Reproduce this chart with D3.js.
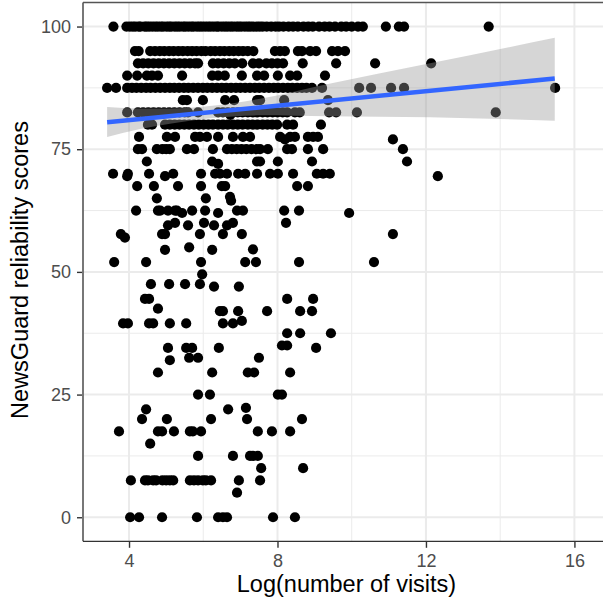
<!DOCTYPE html>
<html><head><meta charset="utf-8">
<script src="https://cdn.jsdelivr.net/npm/d3@7/dist/d3.min.js"></script>
<style>html,body{margin:0;padding:0;background:#fff}svg{display:block}text{font-family:"Liberation Sans",Arial,sans-serif}</style>
</head><body><svg id="c" width="603" height="603"></svg>
<script>
const scores=[100,95,92.5,90,87.5,85,82.5,82,80,77.5,77,75,72.5,72,70,69.5,67.5,65.3,65,64.5,62.5,62,60,59.5,57.7,57,55,54.6,54.5,52,49.5,47.5,47,44.5,42.5,42,40,39.5,37.5,35,34.5,32.5,32,29.5,25,22.3,22,20,17.5,15,12.5,10,7.5,5,0];
const visits=[
[3.58,3.93,4.02,4.1,4.17,4.26,4.31,4.42,4.48,4.55,4.63,4.71,4.78,4.86,4.92,5.01,5.08,5.14,5.23,5.3,5.37,5.46,5.52,5.6,5.68,5.74,5.83,5.9,5.97,6.05,6.13,6.2,6.28,6.36,6.41,6.5,6.58,6.65,6.73,6.8,6.89,6.96,7.03,7.12,7.2,7.27,7.35,7.44,7.52,7.6,7.71,7.83,7.95,8.04,8.16,8.3,8.42,8.55,8.7,8.83,8.95,9.12,9.27,9.4,9.55,9.72,9.85,10.0,10.17,10.3,10.92,11.27,11.41,13.69],
[4.16,4.26,4.57,4.7,4.83,4.95,5.08,5.2,5.33,5.45,5.58,5.7,5.82,5.95,6.06,6.2,6.32,6.45,6.57,6.7,6.82,6.95,7.07,7.2,7.35,7.93,8.07,8.2,8.55,8.66,8.88,9.04,9.47,9.63,9.82],
[4.24,4.38,4.52,4.66,4.8,4.94,5.08,5.22,5.36,5.5,5.64,5.78,5.86,6.26,6.4,6.55,6.7,6.85,7.05,7.34,7.5,7.7,7.85,8.0,8.15,8.68,9.58,10.63,12.14],
[3.95,4.22,4.48,4.62,4.78,5.43,6.24,6.4,6.58,7.04,7.45,7.64,8.01,8.34,8.53,9.28],
[3.41,3.65,3.95,4.08,4.2,4.33,4.46,4.58,4.71,4.84,4.97,5.1,5.22,5.35,5.48,5.6,5.73,5.86,5.99,6.11,6.24,6.37,6.5,6.62,6.75,6.88,7.0,7.13,7.26,7.39,7.51,7.64,7.77,7.9,8.02,8.15,8.28,8.4,8.53,8.66,8.78,8.93,9.2,10.2,10.52,11.06,11.41,15.48],
[5.45,5.56,5.99,6.59,6.83,7.45,7.53,8.18,9.36],
[3.95,4.24,4.38,4.52,4.66,4.8,4.94,5.08,5.22,5.36,5.5,5.59,5.86,6.4,6.53,6.66,6.8,6.93,7.06,7.2,7.33,7.46,7.6,7.73,7.87,8.0,8.14,8.26,8.47,8.6,9.39,9.58,10.14,13.88],
[6.73],
[4.51,4.62,4.97,5.1,5.23,5.36,5.49,5.62,5.75,5.88,6.01,6.14,6.26,6.4,6.53,6.66,6.8,6.93,7.06,7.2,7.33,7.46,7.6,7.73,7.86,7.99,8.26,8.42,9.17],
[4.27,5.02,5.24,5.78,5.91,6.1,6.4,6.8,7.07,7.26,8.07,8.34,8.47,8.82,8.96,9.09],
[8.2,11.11],
[4.24,4.35,4.75,4.9,5.0,5.1,5.56,5.75,6.26,6.64,6.77,6.9,7.03,7.16,7.3,7.43,7.53,7.74,8.26,8.39,8.82,9.23,11.38],
[4.48,6.24,7.45,7.53,8.01,8.93,11.49],
[6.4],
[3.57,3.97,4.54,5.19,5.94,6.32,6.45,6.64,6.94,7.13,7.45,7.8,8.01,8.42,9.06,9.23,9.41],
[3.95,4.97,12.32],
[4.22,4.67,5.32,5.94,6.5,6.59,8.53,8.82],
[6.72],
[4.75,6.07],
[6.75],
[4.19,4.78,4.84,5.05,5.24,5.29,5.7,6.05,6.91,7.07,8.18,8.58],
[5.43,6.4,9.93],
[5.24,6.02,6.8,8.23],
[5.05,5.59,6.29,6.64],
[3.78,4.89,4.97,5.91,6.53,7.04,11.11],
[3.89],
[5.62],
[7.34],
[4.97,6.24],
[3.6,4.46,5.94,7.13,7.42,8.58,10.6],
[5.97],
[4.59,5.08,5.51,5.91],
[6.29,6.96],
[4.43,4.54,8.26,8.96],
[4.78],
[6.45,6.53,6.94,7.72,8.61,8.93],
[7.04],
[3.84,3.97,4.54,4.65,5.1,5.54,6.53,6.8],
[8.26,8.61,9.44],
[8.12,8.26],
[5.05,5.54,5.7,6.42,9.04],
[5.62,5.86,7.5],
[5.1],
[4.78,6.24,7.2,7.37,8.34],
[5.86,6.18,8.01,8.12],
[7.15],
[4.46,6.67],
[4.35,5.02,6.21,7.18,8.66],
[3.73,4.78,4.89,5.21,5.64,5.72,5.94,7.47,7.85,8.34],
[4.57],
[5.86,6.8,7.26,7.34,7.47],
[7.56,8.69],
[4.05,4.43,4.51,4.65,4.73,4.9,5.0,5.1,5.19,5.64,5.75,5.86,5.99,6.07,6.21,6.96,7.53],
[6.91],
[4.03,4.27,4.89,5.83,6.4,6.53,6.64,7.88,8.47]
];
const fitX=[3.41,15.47];
const fitY=[80.5,89.4];
const bandX=[3.41,4.30,5.10,6.18,7.53,9.36,12.11,15.47];
const bandHigh=[83.6,83.3,83.3,83.8,85.3,88.3,92.5,97.7];
const bandLow=[77.5,79.1,80.2,81.3,81.9,81.7,81.5,80.8];
const xTicks=[4,8,12,16], xMinor=[6,10,14];
const yTicks=[0,25,50,75,100], yMinor=[12.5,37.5,62.5,87.5];
const xTitle="Log(number of visits)", yTitle="NewsGuard reliability scores";

const L=83,R=603,T=2.5,B=541.3;
const x=d3.scaleLinear().domain([2.76,16.77]).range([L,R]);
const y=d3.scaleLinear().domain([-4.9,104.9]).range([B,T]);
const svg=d3.select("#c");
const grid=svg.append("g");
grid.selectAll(".a").data(yMinor).join("line").attr("x1",L).attr("x2",R).attr("y1",y).attr("y2",y).attr("stroke","#ebebeb").attr("stroke-width",1);
grid.selectAll(".b").data(xMinor).join("line").attr("y1",T).attr("y2",B).attr("x1",x).attr("x2",x).attr("stroke","#ebebeb").attr("stroke-width",1);
grid.selectAll(".c").data(yTicks).join("line").attr("x1",L).attr("x2",R).attr("y1",y).attr("y2",y).attr("stroke","#ebebeb").attr("stroke-width",2);
grid.selectAll(".d").data(xTicks).join("line").attr("y1",T).attr("y2",B).attr("x1",x).attr("x2",x).attr("stroke","#ebebeb").attr("stroke-width",2);
const pts=scores.flatMap((s,i)=>visits[i].map(v=>({v,s})));
svg.append("g").selectAll("circle").data(pts).join("circle").attr("cx",d=>x(d.v)).attr("cy",d=>y(d.s)).attr("r",5.1).attr("fill","#000");
const area=d3.area().x(d=>x(d[0])).y0(d=>y(d[1])).y1(d=>y(d[2])).curve(d3.curveMonotoneX);
svg.append("path").attr("d",area(bandX.map((b,i)=>[b,bandLow[i],bandHigh[i]]))).attr("fill","#999").attr("fill-opacity",0.4);
svg.append("line").attr("x1",x(fitX[0])).attr("x2",x(fitX[1])).attr("y1",y(fitY[0])).attr("y2",y(fitY[1])).attr("stroke","#3366FF").attr("stroke-width",4.5);
const ax=svg.append("g").attr("transform",`translate(0,${B})`).call(d3.axisBottom(x).tickValues(xTicks).tickSize(6.5).tickPadding(6.5));
const ay=svg.append("g").attr("transform",`translate(${L},0)`).call(d3.axisLeft(y).tickValues(yTicks).tickSize(6).tickPadding(6));
[ax,ay].forEach(g=>{g.select(".domain").remove();g.selectAll("line").attr("stroke","#333").attr("stroke-width",1.4);g.selectAll("text").attr("fill","#4d4d4d").style("font-size","18px").style("font-family",'"Liberation Sans"');});
svg.append("path").attr("d",`M${L},${B}V${T}`).attr("fill","none").attr("stroke","#777").attr("stroke-width",2);
svg.append("path").attr("d",`M${L},${T}H${R}`).attr("fill","none").attr("stroke","#555").attr("stroke-width",1.3);
svg.append("path").attr("d",`M${L},${B}H${R}`).attr("fill","none").attr("stroke","#333").attr("stroke-width",1.3);
svg.append("text").attr("x",346.5).attr("y",592).attr("text-anchor","middle").style("font-size","23.5px").text(xTitle);
svg.append("text").attr("transform","translate(28,270) rotate(-90)").attr("text-anchor","middle").style("font-size","23.5px").text(yTitle);
</script></body></html>
